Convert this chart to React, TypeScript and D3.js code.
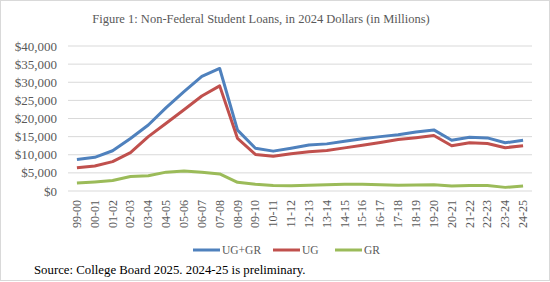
import React from 'react';
import * as d3 from 'd3';

// school years on the x axis
const years = [
  '99-00', '00-01', '01-02', '02-03', '03-04', '04-05', '05-06', '06-07', '07-08',
  '08-09', '09-10', '10-11', '11-12', '12-13', '13-14', '14-15', '15-16', '16-17',
  '17-18', '18-19', '19-20', '20-21', '21-22', '22-23', '23-24', '24-25',
];

// millions of 2024 dollars
const ugGr = [
  8700, 9300, 11100, 14500, 18200, 23000, 27400, 31600, 33800,
  16800, 11800, 11000, 11800, 12700, 13000, 13700, 14400, 15000,
  15500, 16300, 16850, 14000, 14800, 14650, 13300, 14000,
];
const ug = [
  6400, 6900, 8100, 10600, 15000, 18700, 22400, 26200, 29000,
  14500, 10100, 9600, 10300, 10850, 11200, 11900, 12600, 13400,
  14200, 14700, 15300, 12500, 13300, 13100, 11950, 12500,
];
const gr = [
  2200, 2500, 2900, 4000, 4200, 5200, 5500, 5200, 4700,
  2400, 1850, 1500, 1450, 1600, 1750, 1850, 1850, 1750,
  1600, 1650, 1750, 1400, 1500, 1500, 1000, 1400,
];

const yTicks = [0, 5000, 10000, 15000, 20000, 25000, 30000, 35000, 40000];

const series = [
  { name: 'UG+GR', values: ugGr, color: '#4F81BD' },
  { name: 'UG', values: ug, color: '#C0504D' },
  { name: 'GR', values: gr, color: '#9BBB59' },
];

const width = 550;
const height = 282;
const serif = '"Liberation Serif", "DejaVu Serif", serif';

const App = () => {
  const x = d3.scaleBand().domain(years).range([68, 532]);
  const y = d3.scaleLinear().domain([0, 40000]).range([191, 46]);
  const fmt = d3.format('$,');

  const line = d3.line<number>()
    .x((_, i) => (x(years[i]) as number) + x.bandwidth() / 2)
    .y(d => y(d));

  const legendItems = [
    { name: 'UG+GR', x: 193 },
    { name: 'UG', x: 273 },
    { name: 'GR', x: 335 },
  ];

  return (
    <svg width={width} height={height}
      style={{ position: 'absolute', left: 0, top: 0, background: '#fff' }}>
      <rect x={0.5} y={0.5} width={width - 1} height={height - 2}
        fill="#fff" stroke="#D9D9D9" />

      <text x={261} y={23} textAnchor="middle" fontFamily={serif}
        fontSize={12.5} fill="#595959">
        Figure 1: Non-Federal Student Loans, in 2024 Dollars (in Millions)
      </text>

      {/* gridlines + y labels */}
      {yTicks.map(t => (
        <g key={t}>
          <line x1={68} x2={532} y1={y(t)} y2={y(t)} stroke="#D9D9D9" strokeWidth={1} />
          <text x={57} y={y(t)} dy="0.35em" textAnchor="end" fontFamily={serif}
            fontSize={13} fill="#595959">{fmt(t)}</text>
        </g>
      ))}

      {/* category labels, rotated */}
      {years.map(yr => {
        const cx = (x(yr) as number) + x.bandwidth() / 2;
        return (
          <text key={yr} transform={`translate(${cx + 4},200) rotate(-90)`}
            textAnchor="end" fontFamily={serif} fontSize={12} fill="#595959">
            {yr}
          </text>
        );
      })}

      {series.map(s => (
        <path key={s.name} d={line(s.values) || ''} fill="none"
          stroke={s.color} strokeWidth={3} strokeLinejoin="round" />
      ))}

      {/* legend */}
      {legendItems.map((item, i) => (
        <g key={item.name}>
          <line x1={item.x} x2={item.x + 27} y1={250} y2={250}
            stroke={series[i].color} strokeWidth={3} />
          <text x={item.x + 29} y={250} dy="0.35em" fontFamily={serif}
            fontSize={11.5} fill="#595959">{item.name}</text>
        </g>
      ))}

      <text x={34} y={274} fontFamily={serif} fontSize={12.8} fill="#000">
        Source: College Board 2025. 2024-25 is preliminary.
      </text>
    </svg>
  );
};

export default App;
